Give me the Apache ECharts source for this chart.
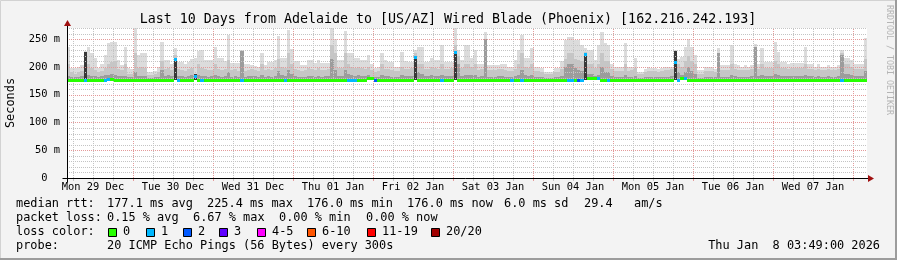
<!DOCTYPE html>
<html><head><meta charset="utf-8">
<script src="https://cdn.jsdelivr.net/npm/echarts@6/dist/echarts.min.js"></script>
<style>html,body{margin:0;padding:0;background:#f3f3f3}#c{width:897px;height:260px}</style>
</head><body><div id="c"></div>
<script>
// ---- axis / label data ----
const dayLabels = ['Mon 29 Dec','Tue 30 Dec','Wed 31 Dec','Thu 01 Jan','Fri 02 Jan','Sat 03 Jan','Sun 04 Jan','Mon 05 Jan','Tue 06 Jan','Wed 07 Jan'];
const labelHours = [12,36,60,84,108,132,156,180,204,228];   // noon of each day (hours after Mon 29 Dec 00:00)
const gridHours = [6,12,18,24,30,36,42,48,54,60,66,72,78,84,90,96,102,108,114,120,126,132,138,144,150,156,162,168,174,180,186,192,198,204,210,216,222,228,234,240];
const gridValues = [10,20,30,40,50,60,70,80,90,100,110,120,130,140,150,160,170,180,190,200,210,220,230,240,250,260,270];
const yLabelValues = [0,50,100,150,200,250];
const lossLabels = ['0','1','2','3','4-5','6-10','11-19','20/20'];
const lossColors = ['#26ff00','#00b8ff','#0059ff','#5e00ff','#ff00ff','#ff5500','#ff0000','#a10000'];

// ---- series data: one value per hour bucket (240 buckets), ms ----
const smokeMax = [
236,198,198,200,203,228,236,225,216,198, 205,221,243,245,245,212,203,236,198,196,
270,221,225,225,191,191,193,200,245,212, 212,205,234,209,209,205,209,214,216,229,
230,212,212,212,236,216,216,210,257,207, 207,207,230,205,205,204,202,200,225,203,
209,209,212,255,216,216,266,232,210,210, 204,204,212,212,207,212,207,207,207,270,
250,213,213,264,225,225,216,216,212,212, 221,205,198,200,225,212,209,209,200,200,
227,210,209,209,230,236,236,208,208,216, 212,212,239,209,209,209,270,230,212,239,
239,216,230,205,205,263,203,203,203,203, 205,205,200,200,212,230,257,216,216,234,
200,200,198,191,191,191,198,198,210,248, 254,254,248,248,240,234,230,230,212,239,
263,243,240,205,200,200,200,243,200,200, 216,191,191,196,200,198,198,196,198,200,
200,200,230,215,218,236,251,235,221,194, 194,200,200,200,196,234,203,203,203,239,
205,203,200,203,200,203,242,206,234,209, 209,209,245,227,209,209,205,207,207,207,
207,236,205,205,200,205,200,200,203,200, 200,203,230,216,216,212,205,205,205,252
];
const smokeMid = [
205,190,188,190,192,215,205,198,194,190, 192,198,205,208,210,196,194,205,188,188,
225,198,200,198,186,186,188,190,210,196, 198,194,222,196,194,192,196,198,188,205,
198,196,194,195,205,196,194,196,212,194, 196,192,220,192,194,196,195,192,205,194,
196,194,198,215,200,198,225,205,196,194, 192,194,198,196,194,198,194,195,196,240,
225,198,198,225,205,200,198,200,198,196, 200,194,190,192,205,196,196,194,192,192,
200,196,196,198,225,205,205,196,196,200, 198,196,205,196,196,198,240,220,198,205,
205,200,205,194,196,240,194,194,194,196, 196,194,192,192,196,205,225,200,198,205,
192,192,190,188,188,188,190,190,196,215, 225,225,215,212,210,226,205,205,198,205,
225,210,210,196,192,192,192,205,192,194, 198,188,188,190,192,192,192,190,192,194,
194,196,228,205,200,210,220,210,205,188, 188,192,192,192,190,225,194,194,194,205,
196,194,194,194,194,196,235,196,205,198, 198,198,210,205,198,198,196,198,198,198,
198,205,196,196,194,196,194,194,196,194, 194,196,225,205,205,200,196,196,196,215
];
const smokeDark = [
184,182,181,182,183,225,186,184,183,182, 183,185,186,187,186,184,183,184,181,181,
190,183,184,183,180,180,181,182,195,184, 185,183,214,184,183,182,184,186,181,186,
184,183,182,183,186,183,182,184,190,182, 183,181,228,181,183,184,183,182,186,182,
183,182,184,192,185,184,195,187,183,182, 181,182,184,183,182,184,182,183,184,215,
195,184,184,195,187,185,184,185,184,183, 185,182,181,182,186,183,183,182,181,181,
185,183,183,184,217,190,187,183,183,185, 184,183,186,183,183,184,228,205,184,186,
186,185,186,182,183,250,182,182,182,183, 183,182,181,181,183,186,195,185,184,186,
182,182,181,180,180,180,181,181,183,200, 205,205,198,195,192,222,188,188,184,186,
200,190,190,183,181,181,181,186,181,182, 184,180,180,181,181,181,181,181,181,182,
182,183,228,190,186,190,200,192,188,180, 180,181,181,181,181,225,182,182,182,186,
183,182,182,182,182,183,235,183,186,184, 184,184,188,186,184,184,183,184,184,184,
184,186,183,183,182,183,182,182,183,182, 182,183,222,188,188,185,183,183,183,192
];
const smokeCore = [
0,0,0,0,0,227,0,0,0,0, 0,0,0,0,0,0,0,0,0,0,
0,0,0,0,0,0,0,0,0,0, 0,0,216,0,0,0,0,0,188,0,
0,0,0,0,0,0,0,0,0,0, 0,0,0,0,0,0,0,0,0,0,
0,0,0,0,0,0,0,0,0,0, 0,0,0,0,0,0,0,0,0,0,
0,0,0,0,0,0,0,0,0,0, 0,0,0,0,0,0,0,0,0,0,
0,0,0,0,218,0,0,0,0,0, 0,0,0,0,0,0,228,0,0,0,
0,0,0,0,0,0,0,0,0,0, 0,0,0,0,0,0,0,0,0,0,
0,0,0,0,0,0,0,0,0,0, 0,0,0,0,0,225,0,0,0,0,
0,0,0,0,0,0,0,0,0,0, 0,0,0,0,0,0,0,0,0,0,
0,0,228,0,0,0,0,0,0,0, 0,0,0,0,0,0,0,0,0,0,
0,0,0,0,0,0,0,0,0,0, 0,0,0,0,0,0,0,0,0,0,
0,0,0,0,0,0,0,0,0,0, 0,0,0,0,0,0,0,0,0,0
];
const medianRtt = [
176,176,176,176,176,176,176,176,176,176, 176,176,177,177,176,176,176,176,176,176,
176,176,176,176,176,176,176,176,176,176, 176,176,214,176,176,176,176,176,183,176,
176,176,176,176,176,176,176,176,176,176, 176,176,176,176,176,176,176,176,176,176,
176,176,176,176,176,176,176,176,176,176, 176,176,176,176,176,176,176,176,176,176,
176,176,176,176,176,176,176,176,176,176, 180,179,176,176,176,176,176,176,176,176,
176,176,176,176,217,176,176,176,176,176, 176,176,176,176,176,176,226,176,176,176,
176,176,176,176,176,176,176,176,176,176, 176,176,176,176,176,176,176,176,176,176,
176,176,176,176,176,176,176,176,176,176, 176,176,176,176,176,223,179,179,179,180,
176,176,176,176,176,176,176,176,176,176, 176,176,176,176,176,176,176,176,176,176,
176,176,208,176,179,180,176,176,176,176, 176,176,176,176,176,176,176,176,176,176,
176,176,176,176,176,176,176,176,176,176, 176,176,176,176,176,176,176,176,176,176,
176,176,176,176,176,176,176,176,176,176, 176,176,176,176,176,176,176,176,176,176
];
const lossLevel = [
0,0,0,0,0,1,0,0,0,0, 0,1,1,0,0,0,0,0,0,0,
0,0,0,0,0,0,0,0,0,0, 0,0,1,1,0,0,0,0,1,0,
1,0,0,0,0,0,0,0,0,0, 0,0,1,0,0,0,0,0,0,0,
0,0,0,0,0,1,0,0,0,0, 0,0,0,0,0,0,0,0,0,0,
0,0,0,0,1,1,1,0,0,0, 0,0,2,0,0,0,0,0,0,0,
0,0,0,0,1,0,0,0,0,0, 0,0,1,0,0,0,1,0,0,0,
0,0,0,0,0,0,0,0,0,0, 0,0,0,1,0,0,1,0,0,0,
0,0,0,0,0,0,0,0,0,0, 1,1,0,2,1,1,0,0,0,1,
0,0,1,0,0,0,0,0,0,0, 0,0,0,0,0,0,0,0,0,0,
0,0,1,1,0,1,0,0,0,0, 0,0,0,0,0,0,0,0,0,0,
0,0,0,0,0,0,0,0,0,0, 0,0,0,0,0,0,0,0,0,0,
0,0,0,0,0,0,0,0,0,0, 0,0,1,0,0,0,0,0,0,0
];

// ---- legend text ----
const statLines = [
  {y:204, parts:[[16,'median rtt:'],[107,'177.1 ms avg'],[207,'225.4 ms max'],[307,'176.0 ms min'],[407,'176.0 ms now'],[504,'6.0 ms sd'],[584,'29.4'],[634,'am/s']]},
  {y:218, parts:[[16,'packet loss:'],[107,'0.15 % avg'],[193,'6.67 % max'],[279,'0.00 % min'],[366,'0.00 % now']]},
  {y:232, parts:[[16,'loss color:']]},
  {y:246, parts:[[16,'probe:'],[107,'20 ICMP Echo Pings (56 Bytes) every 300s']]}
];
const swatchX = [108,146,183,219,257,307,367,431];
const dateStamp = 'Thu Jan  8 03:49:00 2026';
const titleText = 'Last 10 Days from Adelaide to [US/AZ] Wired Blade (Phoenix) [162.216.242.193]';

// ---- config ----
const X_MIN = 4.2, X_MAX = 244.2, Y_MAX = 270, SMOKE_FLOOR = 176;
const MONO = 'DejaVu Sans Mono';
const C_LIGHT='#dcdcdc', C_MID='#c6c6c6', C_DARK='#9c9c9c', C_CORE='#383838';
const C_MINOR='#c4c4c4', C_MAJOR='#e49a9a';

const smokeData = smokeMax.map((v,i)=>[X_MIN+i, v, smokeMid[i], smokeDark[i], smokeCore[i]]);
const medianData = medianRtt.map((v,i)=>[X_MIN+i, v, lossLevel[i]]);

const chart = echarts.init(document.getElementById('c'), null, {renderer:'canvas'});

const graphics = [];
graphics.push({type:'rect', shape:{x:0.5,y:0.5,width:895,height:258}, style:{fill:'none', stroke:'#d2d2d2', lineWidth:1}, silent:true});
graphics.push({type:'line', shape:{x1:0,y1:259,x2:897,y2:259}, style:{stroke:'#9c9c9c', lineWidth:2}, silent:true});
graphics.push({type:'line', shape:{x1:896,y1:0,x2:896,y2:260}, style:{stroke:'#9c9c9c', lineWidth:2}, silent:true});
graphics.push({type:'text', x:448, y:19.5, style:{text:titleText, font:'13.3px "'+MONO+'"', fill:'#000', align:'center', verticalAlign:'middle'}});
graphics.push({type:'text', x:11, y:103, rotation:Math.PI/2, style:{text:'Seconds', font:'11.9px "'+MONO+'"', fill:'#000', align:'center', verticalAlign:'middle'}});
graphics.push({type:'text', x:889, y:5, rotation:-Math.PI/2, style:{text:'RRDTOOL / TOBI OETIKER', font:'8.3px "'+MONO+'"', fill:'#b4b4b4', align:'left', verticalAlign:'middle'}});
statLines.forEach(l=>l.parts.forEach(p=>{
  graphics.push({type:'text', x:p[0], y:l.y, style:{text:p[1], font:'11.9px "'+MONO+'"', fill:'#000', align:'left', verticalAlign:'middle'}});
}));
lossLabels.forEach((lab,k)=>{
  graphics.push({type:'rect', shape:{x:swatchX[k]+0.5,y:228.5,width:8,height:8}, style:{fill:lossColors[k], stroke:'#000', lineWidth:1}});
  graphics.push({type:'text', x:swatchX[k]+15, y:232, style:{text:lab, font:'11.9px "'+MONO+'"', fill:'#000', align:'left', verticalAlign:'middle'}});
});
graphics.push({type:'text', x:880, y:246, style:{text:dateStamp, font:'11.9px "'+MONO+'"', fill:'#000', align:'right', verticalAlign:'middle'}});

const option = {
  animation:false,
  backgroundColor:'#f3f3f3',
  grid:{left:67, right:30, top:28, bottom:82, show:true, backgroundColor:'#ffffff', borderWidth:0, containLabel:false, outerBoundsMode:'none'},
  xAxis:{type:'value', min:X_MIN, max:X_MAX,
    axisLine:{show:false}, axisTick:{show:false}, splitLine:{show:false},
    axisLabel:{customValues:labelHours, formatter:v=>dayLabels[labelHours.indexOf(v)]||'', fontFamily:MONO, fontSize:10.4, color:'#000', margin:4, hideOverlap:false}},
  yAxis:{type:'value', min:0, max:Y_MAX, interval:50,
    axisLine:{show:false}, axisTick:{show:false}, splitLine:{show:false},
    axisLabel:{formatter:v=>yLabelValues.indexOf(v)<0?'':(v===0?'0  ':v+' m'), fontFamily:MONO, fontSize:10.4, color:'#000', margin:7}},
  graphic:graphics,
  series:[
    {type:'custom', name:'smoke', z:2, data:smokeData, encode:{x:0,y:1}, clip:true,
      renderItem:(params, api)=>{
        const h=api.value(0);
        const a=api.coord([h,SMOKE_FLOOR]), b=api.coord([h+1,SMOKE_FLOOR]);
        const x0=Math.round(a[0]), x1=Math.round(b[0]), yb=Math.round(a[1]);
        const kids=[];
        [[1,C_LIGHT],[2,C_MID],[3,C_DARK],[4,C_CORE]].forEach(([d,c])=>{
          const v=api.value(d);
          if(v>SMOKE_FLOOR){
            const yt=Math.round(api.coord([h,Math.min(v,Y_MAX)])[1]);
            kids.push({type:'rect', shape:{x:x0,y:yt,width:x1-x0,height:yb-yt}, style:{fill:c}});
          }
        });
        return {type:'group', children:kids};
      }},
    {type:'custom', name:'vgrid', z:3, data:gridHours.map(h=>[h,0]), encode:{x:0,y:1}, silent:true,
      renderItem:(params, api)=>{
        const h=api.value(0);
        const p0=api.coord([h,0]), p1=api.coord([h,Y_MAX]);
        const x=Math.round(p0[0])+0.5, y0=Math.round(p0[1]);
        const col=(h%24===0)?C_MAJOR:C_MINOR;
        return {type:'group', children:[
          {type:'line', shape:{x1:x,y1:y0,x2:x,y2:Math.round(p1[1])}, style:{stroke:col, lineWidth:1, lineDash:[1,1]}},
          {type:'line', shape:{x1:x,y1:y0+1,x2:x,y2:y0+3}, style:{stroke:col, lineWidth:1}}
        ]};
      }},
    {type:'custom', name:'hgrid', z:3, data:gridValues.map(v=>[X_MIN,v]), encode:{x:0,y:1}, silent:true,
      renderItem:(params, api)=>{
        const v=api.value(1);
        const p0=api.coord([X_MIN,v]), p1=api.coord([X_MAX,v]);
        const y=Math.round(p0[1])+0.5;
        const col=(v%50===0)?C_MAJOR:C_MINOR;
        return {type:'line', shape:{x1:Math.round(p0[0]),y1:y,x2:Math.round(p1[0]),y2:y}, style:{stroke:col, lineWidth:1, lineDash:[1,1]}};
      }},
    {type:'custom', name:'median', z:4, data:medianData, encode:{x:0,y:1}, clip:true,
      renderItem:(params, api)=>{
        const h=api.value(0), m=api.value(1), l=api.value(2);
        const a=api.coord([h,m]), b=api.coord([h+1,m]);
        const x0=Math.round(a[0]), x1=Math.round(b[0]);
        return {type:'rect', shape:{x:x0,y:Math.round(a[1]-1.5),width:x1-x0,height:3}, style:{fill:lossColors[l]}};
      }},
    {type:'custom', name:'frame', z:5, data:[[X_MIN,0]], encode:{x:0,y:1}, silent:true,
      renderItem:(params, api)=>{
        const o=api.coord([X_MIN,0]), r=api.coord([X_MAX,0]), t=api.coord([X_MIN,Y_MAX]);
        const x0=Math.round(o[0])+0.5, y0=Math.round(o[1])+0.5, xr=Math.round(r[0]), yt=Math.round(t[1]);
        return {type:'group', children:[
          {type:'line', shape:{x1:x0-5,y1:y0,x2:xr+2,y2:y0}, style:{stroke:'#000', lineWidth:1}},
          {type:'line', shape:{x1:x0,y1:y0+4,x2:x0,y2:yt-3}, style:{stroke:'#000', lineWidth:1}},
          {type:'polygon', shape:{points:[[xr+1,y0-3.5],[xr+7,y0],[xr+1,y0+3.5]]}, style:{fill:'#a01010'}},
          {type:'polygon', shape:{points:[[x0-3.5,yt-2],[x0,yt-8],[x0+3.5,yt-2]]}, style:{fill:'#a01010'}}
        ]};
      }}
  ]
};
chart.setOption(option);
</script>
</body></html>
